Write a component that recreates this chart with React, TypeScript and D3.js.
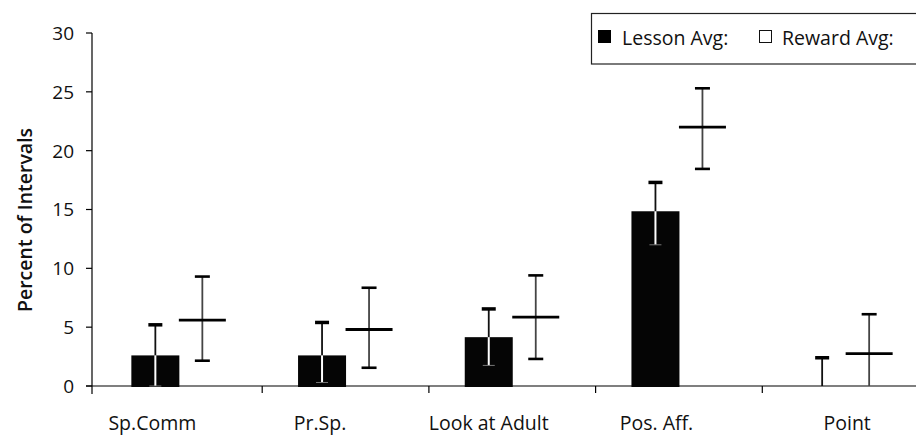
import React from "react";
import * as d3 from "d3";

const categories = ["Sp.Comm", "Pr.Sp.", "Look at Adult", "Pos. Aff.", "Point"];
const lessonAvg = [2.6, 2.6, 4.15, 14.85, 0];
const lessonUpper = [5.2, 5.4, 6.55, 17.3, 2.4];
const lessonLower = [0, 0.3, 1.75, 12.0, 0];
const rewardAvg = [5.6, 4.8, 5.85, 22.0, 2.75];
const rewardUpper = [9.3, 8.35, 9.4, 25.3, 6.1];
const rewardLower = [2.15, 1.55, 2.3, 18.45, 0];
const yTicks = [0, 5, 10, 15, 20, 25, 30];
const seriesNames = ["Lesson Avg:", "Reward Avg:"];

// layout constants
const W = 916;
const H = 435;
const labelShift = [-3, -2, 0, 1, 25];
const FONT = "'Open Sans', 'Noto Sans', sans-serif";

export default function App() {
  const y = d3.scaleLinear().domain([0, 30]).range([386, 33]);
  const x = d3.scaleBand<string>().domain(categories).range([95.5, 929]).paddingInner(0).paddingOuter(0);
  const bw = x.bandwidth();
  const x1 = d3
    .scaleBand<string>()
    .domain(["lesson", "reward"])
    .range([bw / 2 - 47, bw / 2 + 47])
    .padding(0);
  const sub = x1.bandwidth();
  const barW = 48;

  return (
    <svg width={W} height={H} style={{ position: "absolute", left: 0, top: 0, background: "#fff" }} fontFamily={FONT}>
      {/* y axis */}
      <line x1={92} x2={92} y1={y(30)} y2={394} stroke="#000" strokeWidth={1.2} />
      {yTicks.map((t) => (
        <g key={t}>
          <line x1={86} x2={92} y1={y(t)} y2={y(t)} stroke="#000" strokeWidth={1.2} />
          <text x={74} y={y(t)} dy="0.36em" textAnchor="end" fontSize={19} fill="#111">
            {t}
          </text>
        </g>
      ))}
      <text
        transform={`translate(25, 220) rotate(-90)`}
        textAnchor="middle"
        dy="0.35em"
        fontSize={19.5}
        fontWeight={600}
        fill="#111"
      >
        Percent of Intervals
      </text>

      {/* x axis */}
      <line x1={86} x2={W} y1={y(0)} y2={y(0)} stroke="#000" strokeWidth={1.2} />
      {categories.slice(1).map((c) => (
        <line key={c} x1={x(c)!} x2={x(c)!} y1={y(0)} y2={393} stroke="#000" strokeWidth={1.2} />
      ))}
      {categories.map((c, i) => (
        <text
          key={c}
          x={x(c)! + x1("lesson")! + sub / 2 + labelShift[i]}
          y={429.5}
          textAnchor="middle"
          fontSize={19.5}
          fill="#111"
        >
          {c}
        </text>
      ))}

      {/* lesson bars */}
      {categories.map((c, i) => {
        const cx = x(c)! + x1("lesson")! + sub / 2;
        const top = y(lessonAvg[i]);
        return (
          <g key={"l" + c}>
            {lessonAvg[i] > 0 && (
              <rect x={cx - barW / 2} y={top} width={barW} height={y(0) - top + 1} fill="#050505" />
            )}
            <line x1={cx} x2={cx} y1={y(lessonUpper[i])} y2={top} stroke="#111" strokeWidth={1.8} />
            <line x1={cx - 7} x2={cx + 7} y1={y(lessonUpper[i])} y2={y(lessonUpper[i])} stroke="#000" strokeWidth={3.5} />
            {lessonAvg[i] > 0 && (
              <>
                <line x1={cx} x2={cx} y1={top} y2={y(lessonLower[i])} stroke="#fff" strokeWidth={2} />
                <line
                  x1={cx - 6}
                  x2={cx + 6}
                  y1={y(lessonLower[i])}
                  y2={y(lessonLower[i])}
                  stroke="#777"
                  strokeWidth={1}
                />
              </>
            )}
          </g>
        );
      })}

      {/* reward crosses */}
      {categories.map((c, i) => {
        const cx = x(c)! + x1("reward")! + sub / 2;
        const cy = y(rewardAvg[i]);
        return (
          <g key={"r" + c}>
            <line x1={cx} x2={cx} y1={y(rewardUpper[i])} y2={y(rewardLower[i])} stroke="#444" strokeWidth={1.8} />
            <line x1={cx - 7.5} x2={cx + 7.5} y1={y(rewardUpper[i])} y2={y(rewardUpper[i])} stroke="#000" strokeWidth={2.6} />
            {rewardLower[i] > 0 && (
              <line x1={cx - 7.5} x2={cx + 7.5} y1={y(rewardLower[i])} y2={y(rewardLower[i])} stroke="#000" strokeWidth={2.6} />
            )}
            <line x1={cx - sub / 2} x2={cx + sub / 2} y1={cy} y2={cy} stroke="#000" strokeWidth={2.8} />
          </g>
        );
      })}

      {/* legend */}
      <rect x={591.5} y={13.5} width={340} height={50.5} fill="#fff" stroke="#222" strokeWidth={1.2} />
      <rect x={598} y={30} width={13} height={13} fill="#000" />
      <text x={622} y={45} fontSize={19.5} fill="#111">
        {seriesNames[0]}
      </text>
      <rect x={759.5} y={30.5} width={12} height={12} fill="#fff" stroke="#111" strokeWidth={1} />
      <text x={782} y={45} fontSize={19.5} fill="#111">
        {seriesNames[1]}
      </text>
    </svg>
  );
}
